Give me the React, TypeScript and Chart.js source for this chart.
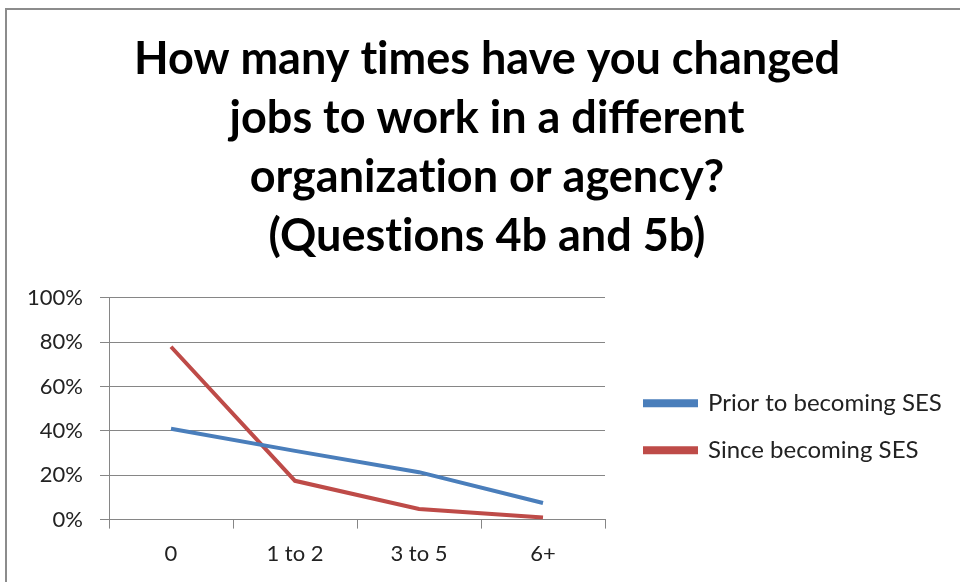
import React, { useEffect, useRef } from "react";
import { Chart, registerables } from "chart.js";

Chart.register(...registerables);

const titleLines = [
  "How many times have you changed",
  "jobs to work in a different",
  "organization or agency?",
  "(Questions 4b and 5b)",
];
const categories = ["0", "1 to 2", "3 to 5", "6+"];
const priorLabel = "Prior to becoming SES";
const sinceLabel = "Since becoming SES";
const priorValues = [41, 31, 21.4, 7.5];
const sinceValues = [78, 17.5, 4.8, 1];
const yTicks = [0, 20, 40, 60, 80, 100];

// break the "ti" ligature of the font so the text looks like the original
const noLig = (s: string) => s.replace(/t(?=i)/g, "t\u200C");

const LEGEND_PAD = 23;
const TITLE_CENTER = 487;

const layoutShift = {
  id: "layoutShift",
  afterLayout(chart: any) {
    const lg = chart.legend;
    if (lg) {
      const dx = chart.chartArea.right + 40 - LEGEND_PAD - lg.left;
      const dy = 18;
      lg.left += dx;
      lg.right += dx;
      lg.top += dy;
      lg.bottom += dy;
    }
    const tb = chart.titleBlock;
    if (tb) {
      const dx = TITLE_CENTER - (tb.left + tb.right) / 2;
      tb.left += dx;
      tb.right += dx;
    }
  },
};

export default function App() {
  const ref = useRef<HTMLCanvasElement | null>(null);
  useEffect(() => {
    if (!ref.current) return;
    const chart = new Chart(ref.current, {
      type: "line",
      data: {
        labels: categories,
        datasets: [
          {
            label: priorLabel,
            data: priorValues,
            borderColor: "#4A7EBB",
            backgroundColor: "#4A7EBB",
            borderWidth: 4,
            pointRadius: 0,
            tension: 0,
            fill: false,
          },
          {
            label: sinceLabel,
            data: sinceValues,
            borderColor: "#BE4B48",
            backgroundColor: "#BE4B48",
            borderWidth: 4,
            pointRadius: 0,
            tension: 0,
            fill: false,
          },
        ],
      },
      options: {
        responsive: false,
        animation: false,
        layout: { padding: { left: 14, right: 32, top: 0, bottom: 3 } },
        plugins: {
          title: {
            display: true,
            text: titleLines.map(noLig),
            color: "#000",
            font: { family: "Lato", size: 45, weight: "bold", lineHeight: 1.311 },
            padding: { top: 30, bottom: 32 },
          },
          legend: {
            position: "right",
            fullSize: false,
            maxWidth: 323,
            labels: {
              boxWidth: 51,
              boxHeight: 4,
              padding: LEGEND_PAD,
              color: "#222",
              font: { family: "Lato", size: 24 },
            },
          },
          tooltip: { enabled: false },
        },
        scales: {
          x: {
            offset: true,
            grid: {
              display: true,
              drawOnChartArea: false,
              offset: true,
              tickLength: 9,
              color: "#868686",
            },
            border: { color: "#868686", width: 1 },
            ticks: {
              color: "#222",
              font: { family: "Lato", size: 22 },
              padding: 12,
            },
          },
          y: {
            min: 0,
            max: 100,
            afterFit: (axis: any) => {
              axis.width = 95;
            },
            afterBuildTicks: (axis: any) => {
              axis.ticks = yTicks.map((v) => ({ value: v }));
            },
            grid: { color: "#868686", tickLength: 9 },
            border: { color: "#868686", width: 1 },
            ticks: {
              color: "#222",
              font: { family: "Lato", size: 22 },
              padding: 17,
              callback: (v: any) => v + "%",
            },
          },
        },
      },
      plugins: [layoutShift],
    });
    return () => chart.destroy();
  }, []);
  return (
    <div style={{ position: "absolute", left: 0, top: 0, width: 960, height: 582, background: "#fff" }}>
      <canvas ref={ref} width={960} height={582} style={{ position: "absolute", left: 0, top: 0 }} />
      <div
        style={{
          position: "absolute",
          left: 5,
          top: 8,
          width: 960,
          height: 582,
          borderLeft: "2px solid #8c8c8c",
          borderTop: "2px solid #8c8c8c",
          pointerEvents: "none",
        }}
      />
    </div>
  );
}
